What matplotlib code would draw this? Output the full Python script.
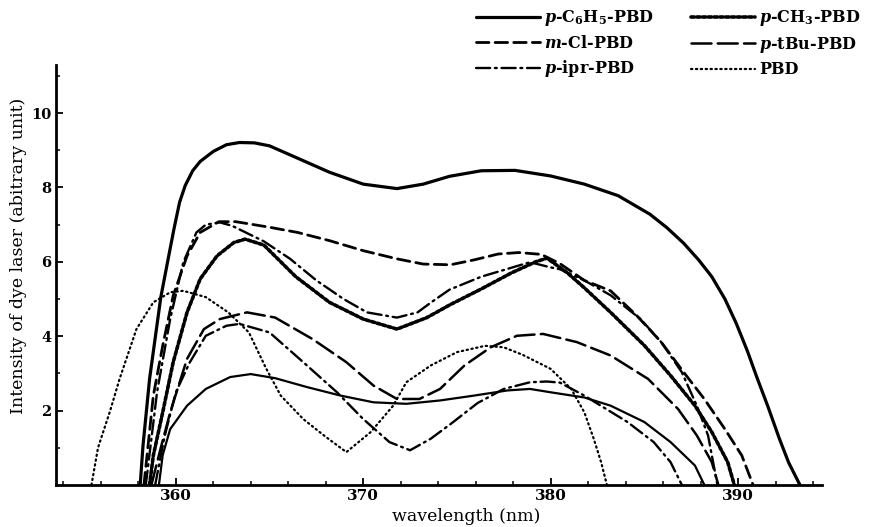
import matplotlib
matplotlib.use("Agg")
import matplotlib.pyplot as plt

plt.rcParams['font.family'] = ['DejaVu Serif']
plt.rcParams['font.weight'] = 'bold'
plt.rcParams['mathtext.fontset'] = 'custom'
plt.rcParams['mathtext.rm'] = 'DejaVu Serif:bold'
plt.rcParams['mathtext.it'] = 'DejaVu Serif:italic:bold'

# --- data (wavelength nm, intensity a.u.) ---
c6h5_wl = [358.1, 358.25, 358.6, 359.2, 359.6, 359.9, 360.2, 360.5, 360.9, 361.3, 362.0, 362.7,
           363.4, 364.2, 365.0, 366.4, 368.2, 370.0, 371.8, 373.2, 374.6, 376.3, 378.1, 380.0,
           381.8, 383.6, 385.3, 386.2, 387.1, 387.9, 388.6, 389.3, 389.9, 390.5, 391.0, 391.6,
           392.2, 392.7, 393.3]
c6h5_i = [0.0, 1.06, 2.85, 5.05, 6.1, 6.88, 7.6, 8.05, 8.45, 8.7, 8.97, 9.15,
          9.21, 9.2, 9.12, 8.81, 8.41, 8.09, 7.97, 8.09, 8.3, 8.45, 8.46, 8.31,
          8.09, 7.78, 7.28, 6.92, 6.5, 6.05, 5.6, 5.0, 4.35, 3.6, 2.9, 2.1,
          1.25, 0.6, 0.0]

mcl_wl = [358.3, 358.8, 359.3, 359.86, 360.6, 361.3, 362.3, 363.2, 365.0, 366.5, 368.2, 370.0,
          371.8, 373.2, 374.65, 375.9, 377.2, 378.3, 379.5, 380.5, 381.8, 383.2, 384.6, 385.9,
          387.1, 388.2, 389.3, 390.2, 390.8]
mcl_i = [0.0, 2.4, 3.74, 5.09, 6.16, 6.79, 7.08, 7.08, 6.93, 6.79, 6.57, 6.3,
         6.08, 5.94, 5.92, 6.05, 6.21, 6.25, 6.2, 5.95, 5.5, 5.22, 4.55, 3.84,
         3.03, 2.31, 1.5, 0.79, 0.0]

ipr_wl = [358.4, 359.0, 359.7, 360.4, 361.1, 361.6, 362.35, 363.0, 364.7, 366.1, 367.5, 368.95,
          370.2, 371.8, 372.9, 373.6, 374.6, 376.3, 377.7, 378.9, 380.0, 380.5, 381.8, 383.2,
          384.8, 385.9, 387.0, 387.8, 388.4, 388.9]
ipr_i = [0.0, 2.5, 4.46, 5.99, 6.79, 7.0, 7.06, 6.97, 6.55, 6.08, 5.5, 5.0,
         4.64, 4.5, 4.64, 4.9, 5.25, 5.6, 5.81, 5.99, 5.85, 5.8, 5.5, 5.1,
         4.46, 3.84, 3.03, 2.13, 1.33, 0.0]

ch3_wl = [358.6, 358.8, 359.3, 359.86, 360.6, 361.3, 362.2, 363.1, 363.7, 364.7, 366.4, 368.2,
          370.0, 371.8, 373.4, 374.65, 376.3, 377.9, 379.2, 379.8, 380.9, 381.8, 383.2, 385.0,
          386.4, 387.7, 388.6, 389.45, 389.8]
ch3_i = [0.0, 0.79, 1.95, 3.3, 4.64, 5.54, 6.16, 6.52, 6.61, 6.45, 5.6, 4.91,
         4.46, 4.19, 4.5, 4.85, 5.27, 5.7, 6.0, 6.1, 5.7, 5.3, 4.64, 3.75,
         2.94, 2.13, 1.42, 0.61, 0.0]

tbu_wl = [358.7, 359.2, 359.7, 360.6, 361.5, 362.35, 363.8, 365.3, 367.3, 369.1, 370.55, 371.8,
          373.0, 374.1, 375.4, 376.8, 378.2, 379.6, 381.4, 383.2, 385.2, 386.8, 387.8, 388.6, 388.95]
tbu_i = [0.0, 1.0, 1.95, 3.39, 4.19, 4.46, 4.64, 4.5, 3.92, 3.3, 2.67, 2.31,
         2.31, 2.58, 3.21, 3.7, 4.01, 4.06, 3.84, 3.48, 2.85, 2.04, 1.33, 0.61, 0.0]

dd2_wl = [358.9, 359.4, 360.0, 360.75, 361.6, 362.7, 363.4, 365.0, 366.8, 368.6, 370.0, 371.4,
          372.5, 373.6, 374.7, 376.1, 377.5, 378.9, 379.8, 380.5, 381.8, 384.1, 385.5, 386.4, 387.0]
dd2_i = [0.0, 1.3, 2.49, 3.3, 4.01, 4.28, 4.33, 4.1, 3.3, 2.49, 1.77, 1.15,
         0.93, 1.24, 1.65, 2.2, 2.58, 2.76, 2.78, 2.75, 2.4, 1.69, 1.15, 0.61, 0.0]

sol2_wl = [359.1, 359.3, 359.7, 360.6, 361.6, 362.9, 364.0, 365.3, 367.0, 368.8, 370.55, 372.3,
           374.1, 375.9, 377.7, 378.9, 380.0, 381.8, 383.2, 385.0, 386.4, 387.7, 388.2]
sol2_i = [0.0, 0.8, 1.5, 2.13, 2.58, 2.9, 2.98, 2.87, 2.63, 2.4, 2.22, 2.18,
          2.27, 2.4, 2.54, 2.58, 2.49, 2.35, 2.13, 1.69, 1.15, 0.52, 0.0]

pbd_wl = [355.5, 355.85, 356.5, 357.0, 357.9, 358.8, 359.7, 360.4, 361.6, 362.8, 363.9, 364.8,
          365.6, 366.8, 367.9, 369.1, 370.4, 371.6, 372.3, 373.6, 375.0, 376.5, 377.5, 378.5,
          380.0, 381.1, 381.8, 382.3, 382.7, 383.0]
pbd_i = [0.0, 1.0, 2.0, 2.85, 4.19, 4.91, 5.18, 5.22, 5.05, 4.64, 4.1, 3.15,
         2.4, 1.77, 1.33, 0.88, 1.42, 2.13, 2.76, 3.21, 3.57, 3.74, 3.7, 3.5,
         3.12, 2.58, 1.95, 1.24, 0.6, 0.0]

fig = plt.figure(figsize=(8.73, 5.27), dpi=100)
ax = fig.add_axes([0.064, 0.080, 0.878, 0.797])

k = dict(color='black', solid_capstyle='round', dash_capstyle='round', solid_joinstyle='round')
ax.plot(c6h5_wl, c6h5_i, lw=2.3, label=r'$p$-C$_6$H$_5$-PBD', **k)
ax.plot(mcl_wl, mcl_i, lw=2.0, ls=(0, (4.5, 2.2)), label=r'$m$-Cl-PBD', **k)
ax.plot(ipr_wl, ipr_i, lw=1.7, ls=(0, (6, 2, 0.8, 2)), label=r'$p$-ipr-PBD', **k)
ax.plot(ch3_wl, ch3_i, lw=2.6, ls=(0, (0.9, 0.7)), label=r'$p$-CH$_3$-PBD', **k)
ax.plot(tbu_wl, tbu_i, lw=1.8, ls=(0, (8, 2.5)), label=r'$p$-tBu-PBD', **k)
ax.plot(pbd_wl, pbd_i, lw=1.6, ls=(0, (0.6, 1.6)), label='PBD', **k)
ax.plot(dd2_wl, dd2_i, lw=1.7, ls=(0, (6, 2, 0.8, 2)), **k)
ax.plot(sol2_wl, sol2_i, lw=1.6, **k)

ax.set_xlim(353.6, 394.5)
ax.set_ylim(0, 11.3)
ax.set_xticks([360, 370, 380, 390])
ax.set_xticks(range(354, 395, 2), minor=True)
ax.set_yticks([2, 4, 6, 8, 10])
ax.set_yticks(range(1, 12), minor=True)
ax.tick_params(direction='in', length=5, width=1.3, labelsize=11, pad=3)
ax.tick_params(axis='y', labelsize=10.5)
ax.tick_params(which='minor', direction='in', length=3, width=1.1)
for s in ['top', 'right']:
    ax.spines[s].set_visible(False)
for s in ['left', 'bottom']:
    ax.spines[s].set_linewidth(2)

ax.set_xlabel('wavelength (nm)', fontsize=12.5)
ax.xaxis.set_label_coords(0.535, -0.055)
ax.set_ylabel('Intensity of dye laser (abitrary unit)', fontsize=12.5)
ax.yaxis.set_label_coords(-0.038, 0.545)

fig.legend(loc='upper left', bbox_to_anchor=(462 / 873, 1 + 6 / 527), ncol=2, frameon=False,
           fontsize=11.5, handlelength=4.0, labelspacing=0.4, columnspacing=2.3, handletextpad=0.25)

fig.savefig('out.png', dpi=100)
